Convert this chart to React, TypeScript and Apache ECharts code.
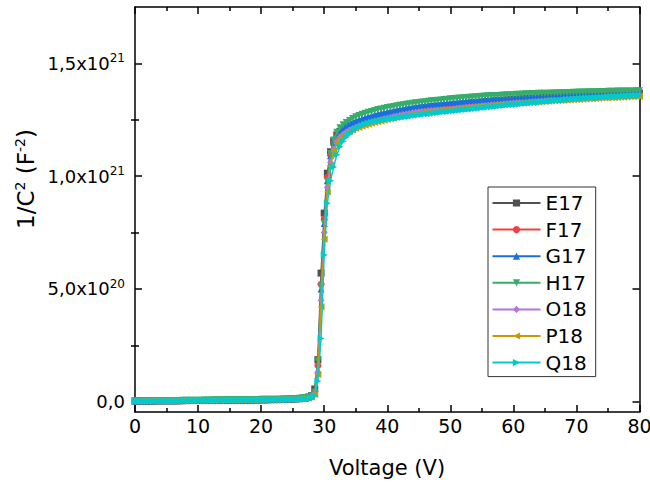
import React, { useEffect, useRef } from "react";
import * as echarts from "echarts";

// Bias voltage (V)
const voltage = [
  0, 0.5, 1, 1.5, 2, 2.5, 3, 3.5, 4, 4.5,
  5, 5.5, 6, 6.5, 7, 7.5, 8, 8.5, 9, 9.5,
  10, 10.5, 11, 11.5, 12, 12.5, 13, 13.5, 14, 14.5,
  15, 15.5, 16, 16.5, 17, 17.5, 18, 18.5, 19, 19.5,
  20, 20.5, 21, 21.5, 22, 22.5, 23, 23.5, 24, 24.5,
  25, 25.5, 26, 26.5, 27, 27.5, 28, 28.5, 29, 29.5,
  30, 30.5, 31, 31.5, 32, 32.5, 33, 33.5, 34, 34.5,
  35, 35.5, 36, 36.5, 37, 37.5, 38, 38.5, 39, 39.5,
  40, 40.5, 41, 41.5, 42, 42.5, 43, 43.5, 44, 44.5,
  45, 45.5, 46, 46.5, 47, 47.5, 48, 48.5, 49, 49.5,
  50, 50.5, 51, 51.5, 52, 52.5, 53, 53.5, 54, 54.5,
  55, 55.5, 56, 56.5, 57, 57.5, 58, 58.5, 59, 59.5,
  60, 60.5, 61, 61.5, 62, 62.5, 63, 63.5, 64, 64.5,
  65, 65.5, 66, 66.5, 67, 67.5, 68, 68.5, 69, 69.5,
  70, 70.5, 71, 71.5, 72, 72.5, 73, 73.5, 74, 74.5,
  75, 75.5, 76, 76.5, 77, 77.5, 78, 78.5, 79, 79.5,
  80,
];

// 1/C^2 in units of 1e19 F^-2
const E17 = [
  0.3, 0.3, 0.3, 0.3, 0.3, 0.3, 0.3, 0.4, 0.4, 0.4,
  0.4, 0.4, 0.4, 0.4, 0.4, 0.4, 0.5, 0.5, 0.5, 0.5,
  0.5, 0.5, 0.5, 0.5, 0.5, 0.6, 0.6, 0.6, 0.6, 0.6,
  0.6, 0.6, 0.7, 0.7, 0.7, 0.7, 0.7, 0.7, 0.8, 0.8,
  0.8, 0.8, 0.8, 0.9, 0.9, 0.9, 1.0, 1.0, 1.0, 1.1,
  1.2, 1.3, 1.4, 1.5, 1.7, 2.0, 2.7, 5.6, 18.6, 57.0,
  83.6, 101.3, 110.8, 115.6, 118.3, 119.9, 121.0, 121.8, 122.4, 122.9,
  123.4, 123.8, 124.2, 124.6, 125.0, 125.4, 125.8, 126.2, 126.6, 127.0,
  127.3, 127.6, 127.9, 128.2, 128.5, 128.8, 129.0, 129.3, 129.5, 129.8,
  130.0, 130.2, 130.4, 130.6, 130.8, 130.9, 131.0, 131.1, 131.2, 131.3,
  131.4, 131.6, 131.7, 131.9, 132.0, 132.2, 132.3, 132.5, 132.6, 132.7,
  132.9, 133.0, 133.1, 133.2, 133.4, 133.5, 133.6, 133.7, 133.8, 133.9,
  134.0, 134.1, 134.2, 134.3, 134.4, 134.5, 134.6, 134.6, 134.7, 134.8,
  134.9, 135.0, 135.1, 135.1, 135.2, 135.3, 135.4, 135.4, 135.5, 135.6,
  135.6, 135.7, 135.8, 135.8, 135.9, 136.0, 136.0, 136.1, 136.1, 136.2,
  136.3, 136.3, 136.4, 136.4, 136.5, 136.5, 136.6, 136.6, 136.7, 136.7,
  136.8,
];

const F17 = [
  0.2, 0.2, 0.2, 0.3, 0.3, 0.3, 0.3, 0.3, 0.3, 0.3,
  0.4, 0.4, 0.4, 0.4, 0.4, 0.4, 0.4, 0.4, 0.5, 0.5,
  0.5, 0.5, 0.5, 0.5, 0.5, 0.5, 0.6, 0.6, 0.6, 0.6,
  0.6, 0.6, 0.6, 0.7, 0.7, 0.7, 0.7, 0.7, 0.7, 0.8,
  0.8, 0.8, 0.8, 0.8, 0.9, 0.9, 0.9, 1.0, 1.0, 1.0,
  1.1, 1.2, 1.3, 1.4, 1.5, 1.8, 2.3, 4.5, 16.0, 52.0,
  81.0, 99.5, 109.5, 114.5, 117.3, 119.0, 120.2, 121.1, 121.8, 122.4,
  122.9, 123.4, 123.8, 124.2, 124.6, 125.0, 125.4, 125.8, 126.2, 126.6,
  126.9, 127.2, 127.5, 127.8, 128.1, 128.4, 128.7, 128.9, 129.2, 129.4,
  129.6, 129.8, 130.0, 130.2, 130.4, 130.5, 130.6, 130.7, 130.8, 130.9,
  131.0, 131.2, 131.3, 131.5, 131.6, 131.8, 131.9, 132.1, 132.2, 132.4,
  132.5, 132.6, 132.7, 132.9, 133.0, 133.1, 133.2, 133.3, 133.4, 133.5,
  133.6, 133.7, 133.8, 133.9, 134.0, 134.1, 134.2, 134.3, 134.4, 134.4,
  134.5, 134.6, 134.7, 134.7, 134.8, 134.9, 135.0, 135.0, 135.1, 135.2,
  135.2, 135.3, 135.4, 135.4, 135.5, 135.6, 135.6, 135.7, 135.7, 135.8,
  135.9, 135.9, 136.0, 136.0, 136.1, 136.2, 136.2, 136.3, 136.3, 136.4,
  136.4,
];

const G17 = [
  0.3, 0.3, 0.3, 0.3, 0.3, 0.3, 0.4, 0.4, 0.4, 0.4,
  0.4, 0.4, 0.4, 0.4, 0.5, 0.5, 0.5, 0.5, 0.5, 0.5,
  0.5, 0.5, 0.6, 0.6, 0.6, 0.6, 0.6, 0.6, 0.6, 0.7,
  0.7, 0.7, 0.7, 0.7, 0.7, 0.7, 0.8, 0.8, 0.8, 0.8,
  0.8, 0.9, 0.9, 0.9, 0.9, 1.0, 1.0, 1.0, 1.1, 1.1,
  1.2, 1.3, 1.3, 1.5, 1.6, 1.9, 2.4, 3.8, 14.0, 50.0,
  79.0, 98.0, 109.0, 115.0, 118.3, 120.2, 121.5, 122.5, 123.3, 124.0,
  124.6, 125.1, 125.6, 126.1, 126.5, 126.9, 127.3, 127.7, 128.0, 128.3,
  128.6, 128.9, 129.2, 129.5, 129.8, 130.0, 130.3, 130.5, 130.7, 131.0,
  131.2, 131.4, 131.5, 131.7, 131.9, 132.0, 132.2, 132.3, 132.5, 132.6,
  132.7, 132.9, 133.0, 133.1, 133.2, 133.4, 133.5, 133.6, 133.7, 133.8,
  133.9, 134.0, 134.1, 134.2, 134.3, 134.4, 134.4, 134.5, 134.6, 134.7,
  134.8, 134.9, 134.9, 135.0, 135.1, 135.2, 135.2, 135.3, 135.4, 135.4,
  135.5, 135.6, 135.6, 135.7, 135.7, 135.8, 135.9, 135.9, 136.0, 136.0,
  136.1, 136.1, 136.2, 136.3, 136.3, 136.4, 136.4, 136.5, 136.5, 136.6,
  136.6, 136.7, 136.7, 136.8, 136.8, 136.9, 136.9, 137.0, 137.0, 137.1,
  137.1,
];

const H17 = [
  0.4, 0.4, 0.4, 0.4, 0.4, 0.4, 0.4, 0.5, 0.5, 0.5,
  0.5, 0.5, 0.5, 0.5, 0.5, 0.6, 0.6, 0.6, 0.6, 0.6,
  0.6, 0.6, 0.7, 0.7, 0.7, 0.7, 0.7, 0.7, 0.7, 0.8,
  0.8, 0.8, 0.8, 0.8, 0.8, 0.9, 0.9, 0.9, 0.9, 0.9,
  1.0, 1.0, 1.0, 1.0, 1.1, 1.1, 1.1, 1.2, 1.2, 1.3,
  1.3, 1.4, 1.5, 1.6, 1.8, 2.1, 2.6, 4.0, 18.0, 51.0,
  79.0, 98.0, 110.0, 116.0, 119.5, 121.5, 122.8, 123.8, 124.7, 125.5,
  126.3, 126.9, 127.4, 127.9, 128.3, 128.7, 129.1, 129.5, 129.8, 130.1,
  130.4, 130.7, 130.9, 131.2, 131.4, 131.6, 131.9, 132.1, 132.3, 132.5,
  132.7, 132.9, 133.0, 133.2, 133.4, 133.5, 133.7, 133.8, 134.0, 134.1,
  134.3, 134.4, 134.5, 134.6, 134.8, 134.9, 135.0, 135.1, 135.2, 135.3,
  135.4, 135.5, 135.6, 135.7, 135.8, 135.8, 135.9, 136.0, 136.1, 136.1,
  136.2, 136.3, 136.3, 136.4, 136.5, 136.5, 136.6, 136.6, 136.7, 136.7,
  136.8, 136.8, 136.9, 136.9, 137.0, 137.0, 137.1, 137.1, 137.1, 137.2,
  137.2, 137.3, 137.3, 137.3, 137.4, 137.4, 137.4, 137.5, 137.5, 137.5,
  137.6, 137.6, 137.6, 137.7, 137.7, 137.7, 137.8, 137.8, 137.8, 137.9,
  137.9,
];

const O18 = [
  0.2, 0.2, 0.2, 0.2, 0.3, 0.3, 0.3, 0.3, 0.3, 0.3,
  0.3, 0.4, 0.4, 0.4, 0.4, 0.4, 0.4, 0.4, 0.4, 0.5,
  0.5, 0.5, 0.5, 0.5, 0.5, 0.5, 0.5, 0.6, 0.6, 0.6,
  0.6, 0.6, 0.6, 0.6, 0.7, 0.7, 0.7, 0.7, 0.7, 0.7,
  0.8, 0.8, 0.8, 0.8, 0.8, 0.9, 0.9, 0.9, 1.0, 1.0,
  1.0, 1.1, 1.2, 1.3, 1.4, 1.6, 2.0, 3.5, 13.0, 45.0,
  75.0, 95.0, 106.0, 112.0, 115.3, 117.3, 118.6, 119.6, 120.4, 121.0,
  121.6, 122.1, 122.6, 123.0, 123.4, 123.8, 124.2, 124.6, 125.0, 125.4,
  125.7, 126.0, 126.4, 126.7, 127.0, 127.3, 127.5, 127.8, 128.1, 128.3,
  128.5, 128.7, 128.8, 129.0, 129.1, 129.2, 129.3, 129.4, 129.5, 129.6,
  129.7, 129.9, 130.0, 130.2, 130.3, 130.5, 130.6, 130.8, 130.9, 131.0,
  131.2, 131.3, 131.4, 131.6, 131.7, 131.8, 131.9, 132.1, 132.2, 132.3,
  132.4, 132.5, 132.6, 132.7, 132.8, 132.9, 133.0, 133.1, 133.2, 133.3,
  133.4, 133.5, 133.6, 133.7, 133.7, 133.8, 133.9, 134.0, 134.1, 134.2,
  134.2, 134.3, 134.4, 134.5, 134.5, 134.6, 134.7, 134.8, 134.8, 134.9,
  135.0, 135.1, 135.1, 135.2, 135.3, 135.4, 135.4, 135.5, 135.6, 135.6,
  135.7,
];

const P18 = [
  0.2, 0.2, 0.2, 0.2, 0.2, 0.3, 0.3, 0.3, 0.3, 0.3,
  0.3, 0.3, 0.3, 0.4, 0.4, 0.4, 0.4, 0.4, 0.4, 0.4,
  0.5, 0.5, 0.5, 0.5, 0.5, 0.5, 0.5, 0.5, 0.6, 0.6,
  0.6, 0.6, 0.6, 0.6, 0.6, 0.7, 0.7, 0.7, 0.7, 0.7,
  0.7, 0.8, 0.8, 0.8, 0.8, 0.8, 0.9, 0.9, 0.9, 1.0,
  1.0, 1.1, 1.1, 1.2, 1.4, 1.6, 1.9, 3.2, 12.0, 42.0,
  72.0, 93.0, 104.5, 111.0, 114.5, 116.6, 118.0, 119.0, 119.8, 120.5,
  121.1, 121.6, 122.1, 122.6, 123.0, 123.4, 123.8, 124.1, 124.5, 124.8,
  125.1, 125.4, 125.7, 126.0, 126.3, 126.6, 126.8, 127.1, 127.3, 127.6,
  127.8, 128.0, 128.2, 128.3, 128.5, 128.7, 128.8, 129.0, 129.1, 129.3,
  129.4, 129.6, 129.7, 129.9, 130.0, 130.2, 130.3, 130.5, 130.6, 130.8,
  130.9, 131.0, 131.2, 131.3, 131.4, 131.6, 131.7, 131.8, 131.9, 132.0,
  132.1, 132.2, 132.3, 132.4, 132.5, 132.6, 132.7, 132.8, 132.9, 133.0,
  133.1, 133.2, 133.3, 133.4, 133.5, 133.5, 133.6, 133.7, 133.8, 133.9,
  134.0, 134.0, 134.1, 134.2, 134.3, 134.3, 134.4, 134.5, 134.6, 134.6,
  134.7, 134.8, 134.8, 134.9, 135.0, 135.0, 135.1, 135.2, 135.2, 135.3,
  135.3,
];

const Q18 = [
  0.3, 0.3, 0.3, 0.3, 0.3, 0.3, 0.3, 0.3, 0.4, 0.4,
  0.4, 0.4, 0.4, 0.4, 0.4, 0.4, 0.4, 0.5, 0.5, 0.5,
  0.5, 0.5, 0.5, 0.5, 0.5, 0.5, 0.6, 0.6, 0.6, 0.6,
  0.6, 0.6, 0.6, 0.6, 0.7, 0.7, 0.7, 0.7, 0.7, 0.7,
  0.7, 0.8, 0.8, 0.8, 0.8, 0.8, 0.9, 0.9, 0.9, 0.9,
  1.0, 1.0, 1.1, 1.1, 1.2, 1.3, 1.5, 2.5, 9.0, 28.0,
  65.0, 88.0, 98.0, 104.0, 109.5, 113.0, 115.5, 117.3, 118.7, 119.9,
  120.9, 121.7, 122.4, 123.0, 123.5, 123.9, 124.2, 124.5, 124.8, 125.0,
  125.2, 125.4, 125.6, 125.8, 126.0, 126.2, 126.4, 126.6, 126.8, 127.0,
  127.1, 127.3, 127.5, 127.6, 127.8, 128.0, 128.1, 128.3, 128.5, 128.6,
  128.8, 128.9, 129.1, 129.2, 129.4, 129.5, 129.7, 129.8, 130.0, 130.1,
  130.3, 130.4, 130.6, 130.7, 130.9, 131.0, 131.2, 131.3, 131.5, 131.6,
  131.7, 131.9, 132.0, 132.2, 132.3, 132.4, 132.6, 132.7, 132.8, 133.0,
  133.1, 133.2, 133.3, 133.5, 133.6, 133.7, 133.8, 134.0, 134.1, 134.2,
  134.3, 134.4, 134.5, 134.6, 134.7, 134.7, 134.8, 134.9, 135.0, 135.1,
  135.2, 135.3, 135.3, 135.4, 135.4, 135.5, 135.5, 135.6, 135.6, 135.7,
  135.7,
];

const seriesNames = ["E17", "F17", "G17", "H17", "O18", "P18", "Q18"];
const seriesValues = [E17, F17, G17, H17, O18, P18, Q18];
const seriesColors = ["#515151", "#F14040", "#1A6FDF", "#37AD6B", "#B177DE", "#CC9900", "#00CBCC"];
const seriesSymbols = ["rect", "circle", "triangle", "triangle", "diamond", "triangle", "triangle"];
const symbolRotations = [0, 0, 0, 180, 0, 90, -90];

// Axis ticks (y in units of 1e19 F^-2)
const xMin = 0;
const xMax = 80;
const xStep = 10;
const yMin = -4.6;
const yMax = 175;
const yMajorTicks = [0, 50, 100, 150];
const yMinorTicks = [25, 75, 125];
const Y_UNIT = 1e19;

const FONT = "DejaVu Sans";

function sciLabel(v: number): string {
  if (v === 0) return "{n|0,0}";
  const actual = v * Y_UNIT;
  const exp = Math.floor(Math.log10(actual) + 1e-9);
  const mant = actual / Math.pow(10, exp);
  return `{n|${mant.toFixed(1).replace(".", ",")}x10}{sup|${exp}}`;
}

export default function App() {
  const ref = useRef<HTMLDivElement>(null);

  useEffect(() => {
    if (!ref.current) return;
    const chart = echarts.init(ref.current, null, { renderer: "svg" });

    const black = "#000";
    const lineW = 1.5;
    const frameLine = { show: true, onZero: false, lineStyle: { color: black, width: lineW } };

    const xAxisBase = {
      type: "value",
      min: xMin,
      max: xMax,
      interval: xStep,
      axisLine: frameLine,
      axisTick: { show: true, inside: true, length: 7, lineStyle: { color: black, width: lineW } },
      minorTick: { show: true, splitNumber: 2, length: 4, lineStyle: { color: black, width: lineW } },
      splitLine: { show: false },
      minorSplitLine: { show: false },
    };

    const yAxisBase = {
      type: "value",
      min: yMin,
      max: yMax,
      splitLine: { show: false },
    };

    const majorY = {
      ...yAxisBase,
      axisLine: frameLine,
      axisTick: { show: true, inside: true, length: 7, customValues: yMajorTicks, lineStyle: { color: black, width: lineW } },
    };
    const minorY = {
      ...yAxisBase,
      axisLine: { show: false },
      axisLabel: { show: false },
      axisTick: { show: true, inside: true, length: 4, customValues: yMinorTicks, lineStyle: { color: black, width: lineW } },
    };

    const option: any = {
      animation: false,
      backgroundColor: "#fff",
      textStyle: { fontFamily: FONT },
      grid: { left: 135, right: 10.5, top: 7, bottom: 72, containLabel: false, outerBoundsMode: "none" },
      xAxis: [
        {
          ...xAxisBase,
          position: "bottom",
          axisLabel: { show: true, fontSize: 19, color: black, fontFamily: FONT, margin: 4 },
        },
        {
          ...xAxisBase,
          position: "top",
          axisLabel: { show: false },
        },
      ],
      yAxis: [
        {
          ...majorY,
          position: "left",
          axisLabel: {
            show: true,
            customValues: yMajorTicks,
            margin: 10,
            formatter: (v: number) => sciLabel(v),
            rich: {
              n: { fontSize: 18, fontFamily: FONT, color: black, lineHeight: 22 },
              sup: { fontSize: 12, fontFamily: FONT, color: black, verticalAlign: "top", lineHeight: 12 },
            },
          },
        },
        { ...minorY, position: "left" },
        { ...majorY, position: "right", axisLabel: { show: false } },
        { ...minorY, position: "right" },
      ],
      legend: {
        orient: "vertical",
        left: 488,
        top: 187,
        padding: [6, 9, 4, 3.5],
        itemWidth: 48,
        itemHeight: 9,
        itemGap: 6.6,
        borderColor: "#333",
        borderWidth: 1,
        backgroundColor: "#fff",
        textStyle: { fontSize: 20, fontFamily: FONT, color: black, lineHeight: 20 },
        data: seriesNames,
      },
      graphic: [
        {
          type: "text",
          x: 387,
          y: 468,
          style: {
            text: "Voltage (V)",
            fontSize: 21,
            fontFamily: FONT,
            fill: black,
            align: "center",
            verticalAlign: "middle",
          },
        },
        {
          type: "text",
          x: 26,
          y: 179,
          rotation: Math.PI / 2,
          style: {
            text: "{t|1/C}{s|2}{t| (F}{s|-2}{t|)}",
            align: "center",
            verticalAlign: "middle",
            rich: {
              t: { fontSize: 23, fontFamily: FONT, fill: black, lineHeight: 26 },
              s: { fontSize: 14, fontFamily: FONT, fill: black, verticalAlign: "top", lineHeight: 14 },
            },
          },
        },
      ],
      series: seriesNames.map((name, k) => ({
        type: "line",
        name,
        xAxisIndex: 0,
        yAxisIndex: 0,
        data: voltage.map((v, i) => [v, seriesValues[k][i]]),
        symbol: seriesSymbols[k],
        symbolRotate: symbolRotations[k],
        symbolSize: 7,
        showSymbol: true,
        color: seriesColors[k],
        lineStyle: { width: 1.5, color: seriesColors[k] },
        itemStyle: { color: seriesColors[k] },
        z: 2 + k,
      })),
    };

    chart.setOption(option);
    return () => chart.dispose();
  }, []);

  return <div ref={ref} style={{ position: "absolute", left: 0, top: 0, width: 650, height: 484 }} />;
}
